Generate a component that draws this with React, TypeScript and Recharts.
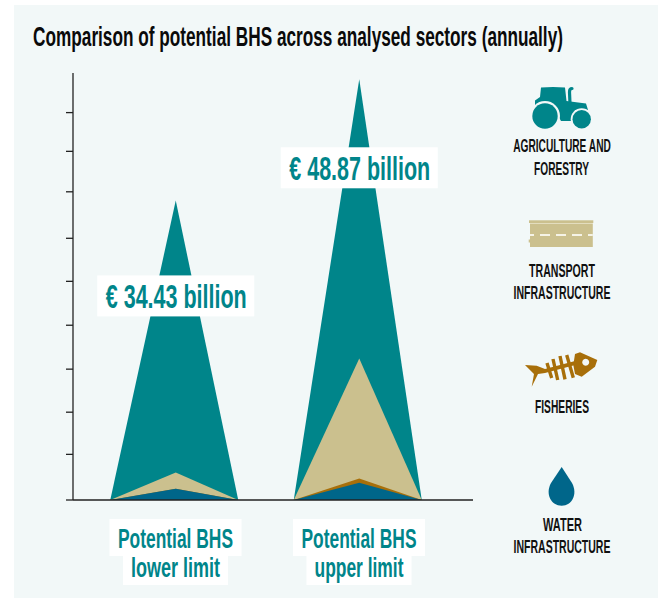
import React from "react";
import { BarChart, Bar, XAxis, YAxis, Legend, LabelList } from "recharts";

const categories = ["lower", "upper"];
const agricultureTop = [34.8, 48.87];
const transportTop = [3.2, 16.45];
const fisheriesTop = [1.3, 2.5];
const waterTop = [1.3, 2.0];
const totalLabels = ["€ 34.43 billion", "€ 48.87 billion"];
const axisLine1 = ["Potential BHS", "Potential BHS"];
const axisLine2 = ["lower limit", "upper limit"];
const valueTicks = [0, 5.3, 10.2, 15.2, 20.3, 25.4, 30.4, 35.8, 40.5, 45];

const data = categories.map((c, i) => ({
  category: c,
  agriculture: agricultureTop[i],
  transport: transportTop[i],
  fisheries: fisheriesTop[i],
  water: waterTop[i],
  total: totalLabels[i],
}));

const TEAL = "#00858a";
const SAND = "#cbc08e";
const BROWN = "#a86f0a";
const BLUE = "#00668a";
const PANEL = "#f2f8f8";
const FONT = "'Liberation Sans Narrow', 'Liberation Sans', sans-serif";

const Triangle = (p: any) => {
  const { x, y, width, height, fill } = p;
  return <path d={`M${x - 1.5},${y + height}L${x + width / 2},${y}L${x + width - 1.5},${y + height}Z`} fill={fill} />;
};

let measureCtx: CanvasRenderingContext2D | null = null;
const measure = (s: string, size: number) => {
  if (!measureCtx) measureCtx = document.createElement("canvas").getContext("2d");
  measureCtx!.font = `700 ${size}px ${FONT}`;
  return measureCtx!.measureText(s).width;
};

const T = ({ x, y, w, size, fill = "#111", children }: any) => (
  <g transform={`translate(${x},${y}) scale(${w / measure(String(children), size)},1)`}>
    <text x={0} y={0} textAnchor="middle" fontFamily={FONT} fontWeight={700} fontSize={size} fill={fill}>{children}</text>
  </g>
);

const labelOffset = [75, 68];
const TotalLabel = (p: any) => {
  const { x, y, width, value, index } = p;
  const cx = x + width / 2;
  const top = y + labelOffset[index];
  return (
    <g>
      <rect x={cx - 78.5} y={top} width={157} height={41} fill="#fff" />
      <T x={cx + 0.5} y={top + 33} w={141} size={33} fill={TEAL}>{value}</T>
    </g>
  );
};

const CategoryTick = (p: any) => {
  const { x, index } = p;
  return (
    <g>
      <rect x={x - 66} y={519} width={132} height={37} fill="#fff" />
      <rect x={x - 52.5} y={555.5} width={105} height={29.5} fill="#fff" />
      <T x={x} y={548} w={115} size={28} fill={TEAL}>{axisLine1[index]}</T>
      <T x={x} y={577} w={89} size={28} fill={TEAL}>{axisLine2[index]}</T>
    </g>
  );
};

const Tractor = () => (
  <g>
    <path fill={TEAL} d="M541,87.5Q553,86.5 565,87.5L566.5,101L586,103.5L588,110L575,110L571,121L561,121L552,105L535,105L535,100.5L540,97Z" />
    <path stroke={TEAL} strokeWidth={3.2} strokeLinecap="round" fill="none" d="M570,104L569.5,92Q569.5,88.5 572,88.5" />
    <circle cx={545} cy={116} r={15} fill={PANEL} />
    <circle cx={581.7} cy={119.3} r={11} fill={PANEL} />
    <circle cx={545} cy={116} r={12.7} fill={TEAL} />
    <circle cx={581.7} cy={119.3} r={9.2} fill={TEAL} />
  </g>
);
const Road = () => (
  <g>
    <rect x={529} y={220.3} width={64.3} height={2.7} fill={SAND} />
    <rect x={530} y={223} width={62.8} height={1} fill="#e3ddbe" />
    <rect x={530} y={224} width={62.8} height={23} fill={SAND} />
    <rect x={528.7} y={239.5} width={1.5} height={3} fill={SAND} />
    <path d="M530,235H592.8" stroke="#f5f3e6" strokeWidth={2} strokeDasharray="10 6" strokeDashoffset={6} />
  </g>
);
const Fish = () => (
  <g>
    <path fill={BROWN} d="M525,365L536.7,365.7L545,369L577,360.5L577,364.5L545,373L538,374L531.7,386.7L534,374Z" />
    <path stroke={BROWN} strokeWidth={3.4} d="M547,363L551.7,378M553,359L557.7,380M560,356L565,379.3M566.7,355L573.3,377.7" />
    <path fill={BROWN} fillRule="evenodd" d="M575,354L580,352.3L597.3,360L595,366.7L581.7,376.7L575,374L573.3,365ZM585.7,358.8a3.5,3.5 0 1,0 0.01,0Z" />
  </g>
);
const Drop = () => (
  <path d="M561.7,467L572,483C578,494 572,505.7 561.7,505.7C551,505.7 545,494 551,483Z" fill={BLUE} />
);

const legendItems: Record<string, { icon: React.ReactNode; lines: [string, number, number, number][] }> = {
  agriculture: { icon: <Tractor />, lines: [["AGRICULTURE AND", 562, 151.5, 98], ["FORESTRY", 561.5, 175, 55]] },
  transport: { icon: <Road />, lines: [["TRANSPORT", 562, 277, 66], ["INFRASTRUCTURE", 562, 299, 97]] },
  fisheries: { icon: <Fish />, lines: [["FISHERIES", 562, 413, 54]] },
  water: { icon: <Drop />, lines: [["WATER", 562.5, 531, 39], ["INFRASTRUCTURE", 562, 553, 97]] },
};

const LegendContent = (p: any) => (
  <svg width={658} height={599} style={{ position: "absolute", left: 0, top: 0, overflow: "visible" }}>
    {(p.payload || []).map((e: any) => {
      const item = legendItems[e.dataKey];
      return (
        <g key={e.dataKey}>
          {item.icon}
          {item.lines.map(([t, x, y, w]) => (
            <T key={t + y} x={x} y={y} w={w} size={18}>{t}</T>
          ))}
        </g>
      );
    })}
  </svg>
);

export default function App() {
  return (
    <div style={{ position: "absolute", left: 0, top: 0, width: 658, height: 599, background: "#fff", overflow: "hidden" }}>
      <div style={{ position: "absolute", left: 14, top: 5, width: 644, height: 593, background: PANEL }} />
      <svg width={658} height={599} style={{ position: "absolute", left: 0, top: 0 }}>
        <T x={298} y={46} w={530} size={27.5} fill="#0a0a0a">Comparison of potential BHS across analysed sectors (annually)</T>
      </svg>
      <div style={{ position: "absolute", left: 0, top: 0 }}>
        <BarChart width={658} height={599} data={data} margin={{ top: 73, left: 72, right: 185, bottom: 98 }} barSize={128} barGap={-128}>
          <XAxis dataKey="category" interval={0} height={1} padding={{ left: 10.75, right: 22.25 }}
            tick={<CategoryTick />} tickLine={false} axisLine={{ stroke: "#222", strokeWidth: 1.3 }} />
          <YAxis width={1} domain={[0, 49.6]} ticks={valueTicks} tickSize={7} tickFormatter={() => ""}
            tickLine={{ stroke: "#222", strokeWidth: 1.3 }} axisLine={{ stroke: "#222", strokeWidth: 1.3 }} />
          <Bar dataKey="agriculture" fill={TEAL} shape={<Triangle />} isAnimationActive={false}>
            <LabelList dataKey="total" content={<TotalLabel />} />
          </Bar>
          <Bar dataKey="transport" fill={SAND} shape={<Triangle />} isAnimationActive={false} />
          <Bar dataKey="fisheries" fill={BROWN} shape={<Triangle />} isAnimationActive={false} />
          <Bar dataKey="water" fill={BLUE} shape={<Triangle />} isAnimationActive={false} />
          <Legend width={0} height={0} wrapperStyle={{ left: 0, top: 0, bottom: "auto", width: 0, height: 0 }} content={<LegendContent />} />
        </BarChart>
      </div>
    </div>
  );
}
